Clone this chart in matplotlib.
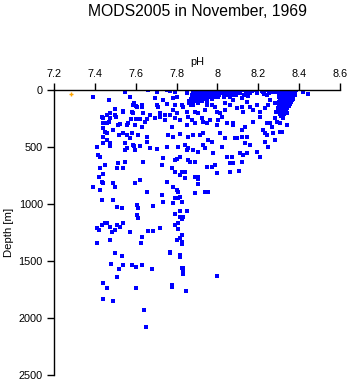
import numpy as np
import matplotlib
matplotlib.use("Agg")
import matplotlib.pyplot as plt

plt.rcParams['font.family'] = ['Liberation Sans', 'DejaVu Sans']

title = "MODS2005 in November, 1969"
xticks = [7.2, 7.4, 7.6, 7.8, 8.0, 8.2, 8.4, 8.6]
xticklabels = ["7.2", "7.4", "7.6", "7.8", "8", "8.2", "8.4", "8.6"]
yticks = [0, 500, 1000, 1500, 2000, 2500]

# flagged sample (orange)
ph_flag = [7.282]
depth_flag = [38]

# shallow-left and deep-left samples
ph_left = [7.392, 7.549, 7.572, 7.471, 7.659, 7.588, 7.605, 7.629, 7.539, 7.580,
           7.499, 7.474, 7.458, 7.438, 7.433, 7.474, 7.471, 7.499, 7.588, 7.637,
           7.441, 7.441, 7.450, 7.458, 7.490, 7.441, 7.458, 7.474, 7.515, 7.523,
           7.564, 7.596, 7.629, 7.645, 7.654, 7.539, 7.580, 7.613, 7.654, 7.548,
           7.588, 7.654, 7.412, 7.417, 7.425, 7.474, 7.548, 7.556, 7.596, 7.548,
           7.515, 7.637, 7.425, 7.450, 7.507, 7.539, 7.422, 7.392, 7.425, 7.441,
           7.499, 7.490, 7.596, 7.621, 7.654, 7.433, 7.510, 7.531, 7.605, 7.613,
           7.490, 7.605, 7.613, 7.422, 7.412, 7.433, 7.450, 7.458, 7.474, 7.507,
           7.539, 7.523, 7.499, 7.482, 7.572, 7.662, 7.629, 7.624, 7.412, 7.474,
           7.593, 7.601, 7.632, 7.578, 7.600, 7.620, 7.502, 7.539, 7.559, 7.520,
           7.555, 7.570, 7.590, 7.620, 7.441, 7.433, 7.440, 7.461]
depth_left = [64, 15, 64, 88, 0, 132, 146, 152, 190, 190,
              169, 205, 219, 248, 234, 248, 278, 219, 205, 205,
              292, 336, 366, 380, 351, 409, 438, 468, 307, 298,
              292, 307, 322, 278, 257, 380, 380, 395, 409, 468,
              482, 453, 497, 570, 585, 491, 526, 511, 526, 629,
              643, 629, 687, 658, 687, 687, 760, 848, 877, 818,
              848, 818, 818, 789, 892, 965, 1023, 1038, 1009, 1038,
              965, 1096, 1125, 1228, 1213, 1184, 1169, 1164, 1199, 1184,
              1169, 1199, 1228, 1243, 1243, 1234, 1287, 1345, 1339, 1316,
              115, 140, 129, 254, 254, 254, 234, 184, 307, 395,
              395, 420, 491, 491, 739, 804, 468, 292]

# deep samples below 1400 m
ph_deep = [7.500, 7.531, 7.480, 7.520, 7.539, 7.582, 7.601, 7.631, 7.510, 7.441,
           7.461, 7.441, 7.490, 7.601, 7.641, 7.650, 7.779, 7.779, 7.848]
depth_deep = [1432, 1453, 1529, 1573, 1537, 1537, 1555, 1537, 1643, 1695,
              1736, 1836, 1853, 1739, 1929, 2081, 1710, 1725, 1763]

# middle/right scattered samples
ph_mid = [7.703, 7.752, 7.768, 7.792, 7.801, 7.784, 7.850, 7.874, 7.879, 7.898,
          8.127, 8.151, 8.176, 8.192, 8.225, 8.241, 8.258, 8.282, 8.417, 8.445,
          7.694, 7.735, 7.752, 7.703, 7.711, 7.792, 7.784, 7.801, 7.825, 7.833,
          7.850, 7.858, 7.866, 7.882, 7.890, 7.907, 7.923, 7.939, 7.947, 7.972,
          7.988, 7.996, 8.013, 8.037, 8.037, 8.062, 8.078, 8.094, 8.119, 8.127,
          8.143, 8.160, 8.176, 8.192, 8.209, 8.233, 8.249, 8.258, 8.282, 8.287,
          8.307, 8.323, 8.339, 7.670, 7.694, 7.719, 7.719, 7.743, 7.743, 7.768,
          7.792, 7.776, 7.817, 7.850, 7.874, 7.890, 7.931, 7.947, 7.964, 7.996,
          8.005, 8.021, 8.045, 8.078, 8.078, 8.119, 8.135, 8.176, 8.209, 8.241,
          8.258, 8.266, 8.282, 8.290, 8.307, 8.323, 8.339, 8.225, 8.233, 8.241,
          8.274, 8.307, 8.315, 7.760, 7.817, 7.784, 7.858, 7.882, 7.915, 7.931,
          7.956, 7.972, 8.013, 8.037, 8.086, 8.094, 8.119, 8.143, 8.160, 8.135,
          8.233, 8.249, 8.282, 7.670, 7.703, 7.752, 7.809, 7.841, 7.850, 7.858,
          7.882, 7.907, 7.931, 7.939, 7.980, 8.021, 8.045, 8.070, 8.111, 8.127,
          8.143, 8.192, 8.209, 7.735, 7.792, 7.801, 7.817, 7.858, 7.866, 7.890,
          7.947, 7.972, 7.988, 8.062, 8.078, 8.119, 7.727, 7.776, 7.792, 7.825,
          7.841, 7.817, 7.890, 7.907, 7.907, 7.841, 7.996, 8.062, 8.107, 7.752,
          7.907, 7.784, 7.801, 7.809, 7.890, 7.939, 7.956, 7.727, 7.735, 7.792,
          7.809, 7.817, 7.825, 7.784, 7.686, 7.817, 7.850, 7.792, 7.817, 7.833,
          7.825, 7.792, 7.809, 7.809, 7.719, 7.686, 7.825, 7.801, 7.817, 7.825,
          7.825, 7.768, 7.768, 7.817, 7.817, 7.678, 7.825, 7.833, 7.833, 7.833,
          7.996]
depth_mid = [15, 0, 9, 15, 58, 73, 29, 44, 6, 23,
             0, 15, 0, 23, 15, 44, 0, 15, 15, 35,
             73, 88, 123, 132, 146, 132, 175, 205, 132, 146,
             190, 234, 117, 132, 190, 205, 248, 175, 132, 132,
             146, 190, 205, 175, 117, 132, 88, 161, 146, 190,
             102, 146, 175, 132, 190, 161, 132, 88, 117, 190,
             205, 175, 205, 219, 248, 205, 234, 219, 263, 219,
             248, 322, 263, 307, 263, 292, 278, 292, 263, 307,
             263, 234, 292, 307, 286, 351, 322, 278, 234, 292,
             292, 322, 248, 278, 292, 248, 307, 351, 380, 395,
             380, 365, 365, 395, 389, 409, 409, 395, 395, 380,
             438, 453, 374, 424, 424, 424, 409, 409, 482, 468,
             453, 497, 438, 511, 517, 497, 497, 482, 526, 511,
             526, 541, 482, 511, 555, 497, 585, 585, 555, 570,
             555, 541, 585, 599, 614, 608, 590, 614, 628, 628,
             672, 672, 658, 643, 643, 628, 658, 687, 716, 716,
             716, 745, 766, 760, 780, 775, 731, 716, 710, 810,
             827, 848, 877, 892, 906, 892, 892, 921, 979, 950,
             950, 935, 979, 994, 1017, 1061, 1058, 1090, 1111, 1111,
             1131, 1184, 1169, 1222, 1213, 1234, 1272, 1315, 1301, 1330,
             1350, 1418, 1432, 1447, 1462, 1573, 1564, 1558, 1593, 1617,
             1634]

# dense near-surface cluster around pH 8.0
ph_dense_a = [7.90, 7.92, 7.94, 7.955, 7.97, 7.985, 8.00, 8.015, 8.03, 8.045, 8.06, 8.075, 8.09, 8.105, 8.12,
              7.91, 7.93, 7.95, 7.965, 7.98, 7.995, 8.01, 8.025, 8.04, 8.055, 8.07, 8.085, 8.10,
              7.90, 7.92, 7.94, 7.96, 7.975, 7.99, 8.005, 8.02, 8.035, 8.05, 8.065, 8.08, 8.095, 8.11,
              7.89, 7.91, 7.93, 7.95, 7.97, 7.99, 8.01, 8.03, 8.05, 8.07, 8.09,
              7.88, 7.90, 7.92, 7.945, 7.965, 7.985, 8.005, 8.03, 8.06,
              7.87, 7.89, 7.91, 7.93, 7.95, 7.975, 7.86, 7.88, 7.90, 7.925, 7.95,
              7.86, 7.88, 7.905, 7.87,
              8.14, 8.16, 8.13, 8.15, 8.12, 8.17]
depth_dense_a = [0, 0, 0, 0, 0, 0, 0, 0, 0, 0, 0, 0, 0, 0, 0,
                 15, 15, 15, 15, 15, 15, 15, 15, 15, 15, 15, 15, 15,
                 30, 30, 30, 30, 30, 30, 30, 30, 30, 30, 30, 30, 30, 30,
                 45, 45, 45, 45, 45, 45, 45, 45, 45, 45, 45,
                 60, 60, 60, 60, 60, 60, 60, 60, 60,
                 75, 75, 75, 75, 75, 75, 95, 95, 95, 95, 95,
                 115, 115, 115, 135,
                 10, 25, 40, 55, 70, 5]

# dense near-surface cluster around pH 8.35
ph_dense_b = [8.30, 8.315, 8.33, 8.345, 8.36, 8.375, 8.385,
              8.305, 8.32, 8.335, 8.35, 8.365, 8.38,
              8.30, 8.315, 8.33, 8.345, 8.36, 8.375,
              8.305, 8.32, 8.335, 8.35, 8.365, 8.38,
              8.30, 8.315, 8.33, 8.345, 8.36, 8.37,
              8.31, 8.325, 8.34, 8.355, 8.37,
              8.305, 8.32, 8.335, 8.35, 8.365,
              8.30, 8.315, 8.33, 8.345, 8.36,
              8.31, 8.325, 8.34, 8.355,
              8.30, 8.315, 8.33, 8.35,
              8.295, 8.31, 8.325, 8.34,
              8.30, 8.32, 8.335,
              8.305, 8.325, 8.31,
              8.22, 8.24, 8.26, 8.28, 8.27, 8.25, 8.23]
depth_dense_b = [0, 0, 0, 0, 0, 0, 0,
                 15, 15, 15, 15, 15, 15,
                 30, 30, 30, 30, 30, 30,
                 45, 45, 45, 45, 45, 45,
                 60, 60, 60, 60, 60, 60,
                 75, 75, 75, 75, 75,
                 90, 90, 90, 90, 90,
                 105, 105, 105, 105, 105,
                 120, 120, 120, 120,
                 140, 140, 140, 140,
                 160, 160, 160, 160,
                 185, 185, 185,
                 210, 210, 230,
                 5, 0, 8, 3, 20, 25, 35]

ph_all = ph_left + ph_deep + ph_mid + ph_dense_a + ph_dense_b
depth_all = depth_left + depth_deep + depth_mid + depth_dense_a + depth_dense_b

fig = plt.figure(figsize=(3.5, 3.84), dpi=100)
ax = fig.add_axes([54 / 350, 1 - 375 / 384, 286 / 350, 285 / 384])

ax.scatter(ph_all, depth_all, s=6.5, marker='s', color='#0000ff',
           linewidths=0, antialiased=False)
ax.scatter(ph_flag, depth_flag, s=8, marker='+', color='#ffa500', linewidths=1)

ax.set_xlim(7.2, 8.6)
ax.set_ylim(2500, 0)
ax.xaxis.tick_top()
ax.xaxis.set_label_position('top')
ax.set_xticks(xticks)
ax.set_xticklabels(xticklabels)
ax.set_yticks(yticks)
ax.tick_params(axis='both', direction='out', length=5, width=1, labelsize=7.8, pad=3)
ax.set_xlabel("pH", fontsize=7.8, labelpad=3)
ax.set_ylabel("Depth [m]", fontsize=8.2, labelpad=3)
for side in ['right', 'bottom']:
    ax.spines[side].set_visible(False)
for side in ['top', 'left']:
    ax.spines[side].set_linewidth(1)

fig.text(197 / 350, 1 - 12 / 384, title, ha='center', va='center', fontsize=11.3)

fig.savefig("out.png", dpi=100)
